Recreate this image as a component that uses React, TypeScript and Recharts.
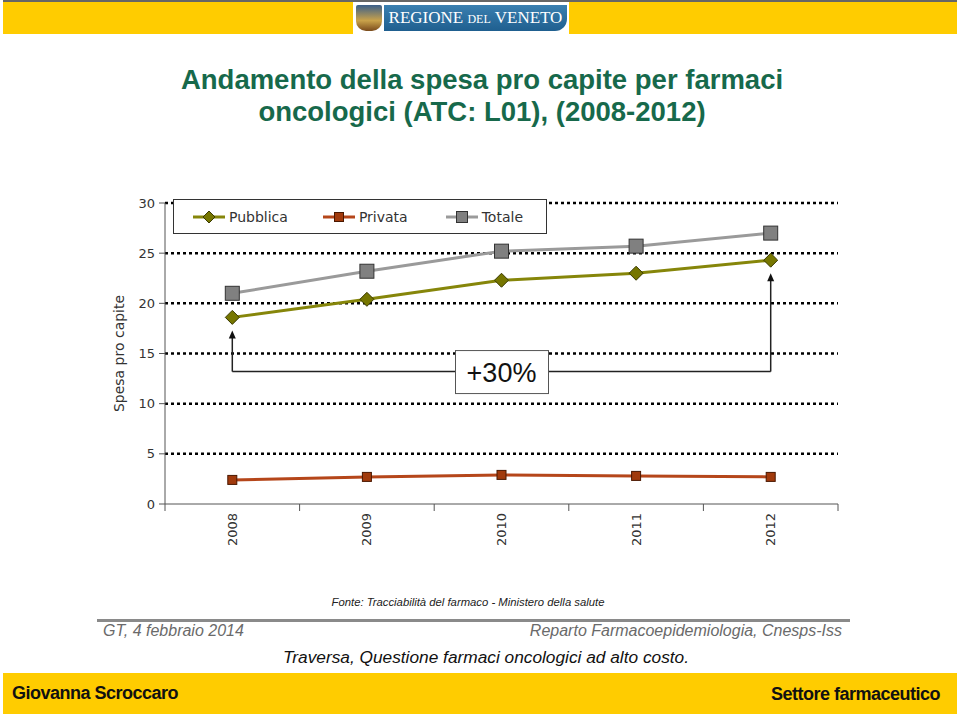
import {
  LineChart,
  Line,
  XAxis,
  YAxis,
  CartesianGrid,
  Legend,
  ReferenceLine,
  ReferenceDot,
} from "recharts"

const years = ["2008", "2009", "2010", "2011", "2012"]
const pubblica = [18.6, 20.4, 22.3, 23.0, 24.3]
const privata = [2.4, 2.7, 2.9, 2.8, 2.7]
const totale = [21.0, 23.2, 25.2, 25.7, 27.0]
const yTicks = [0, 5, 10, 15, 20, 25, 30]
const gridValues = [5, 10, 15, 20, 25, 30]

// annotation "+30%" (data units)
const bracketLevel = 13.2
const arrowTipLeft = 17.3
const arrowTipRight = 23.0

const data = years.map((year, i) => ({
  year,
  pubblica: pubblica[i],
  privata: privata[i],
  totale: totale[i],
}))

const COL_PUB = "#86860a"
const COL_PRIV = "#b5461a"
const COL_TOT = "#9a9a9a"
const FONT = "'DejaVu Sans', Verdana, sans-serif"
const ARIAL = "'Liberation Sans', Arial, sans-serif"

const Diamond = (p: any) => {
  const { cx, cy } = p
  if (cx == null || cy == null) return null
  const r = 7
  return (
    <path
      d={`M${cx},${cy - r}L${cx + r},${cy}L${cx},${cy + r}L${cx - r},${cy}Z`}
      fill="#767600"
      stroke="#3a3a00"
      strokeWidth={1}
    />
  )
}

const squareDot = (size: number, fill: string, stroke: string) => (p: any) => {
  const { cx, cy } = p
  if (cx == null || cy == null) return null
  return (
    <rect
      x={cx - size / 2}
      y={cy - size / 2}
      width={size}
      height={size}
      fill={fill}
      stroke={stroke}
      strokeWidth={1}
    />
  )
}

const PrivDot = squareDot(9, "#a13a0c", "#4a1800")
const TotDot = squareDot(14, "#808080", "#333333")

const ArrowHead = (p: any) => {
  const { cx, cy } = p
  return (
    <path d={`M${cx},${cy}L${cx + 3.5},${cy + 8}L${cx - 3.5},${cy + 8}Z`} fill="#111" />
  )
}

const PercentBox = (p: any) => {
  const { cx, cy } = p
  return (
    <g>
      <rect x={cx - 46} y={cy - 21} width={93} height={43} fill="#fff" stroke="#555" strokeWidth={1} />
      <text
        x={cx}
        y={cy + 1}
        textAnchor="middle"
        dominantBaseline="central"
        fontFamily={ARIAL}
        fontSize={27}
        fill="#111"
      >
        +30%
      </text>
    </g>
  )
}

// year label plus tick marks on the band edges
const YearTick = (p: any) => {
  const { x, y, payload, index, visibleTicksCount } = p
  const half = payload && payload.offset ? payload.offset : 67.3
  const top = y - 9
  const last = index === visibleTicksCount - 1
  return (
    <g>
      <line x1={x - half} y1={top} x2={x - half} y2={top + 7} stroke="#555" />
      {last && <line x1={x + half} y1={top} x2={x + half} y2={top + 7} stroke="#555" />}
      <text
        x={x}
        y={y}
        transform={`rotate(-90 ${x} ${y})`}
        textAnchor="end"
        dominantBaseline="central"
        fontFamily={FONT}
        fontSize={13}
        fill="#333"
      >
        {payload.value}
      </text>
    </g>
  )
}

const legendItems = [
  { name: "Pubblica", color: COL_PUB, kind: "diamond" },
  { name: "Privata", color: COL_PRIV, kind: "small" },
  { name: "Totale", color: COL_TOT, kind: "big" },
]

function LegendIcon({ color, kind }: { color: string; kind: string }) {
  return (
    <svg width={32} height={14} style={{ display: "block" }}>
      <line x1={0} y1={7} x2={32} y2={7} stroke={color} strokeWidth={3} />
      {kind === "diamond" && <path d="M16,1L22,7L16,13L10,7Z" fill="#767600" stroke="#3a3a00" />}
      {kind === "small" && <rect x={11.5} y={2.5} width={9} height={9} fill="#a13a0c" stroke="#4a1800" />}
      {kind === "big" && <rect x={10.5} y={1.5} width={11} height={11} fill="#808080" stroke="#333" />}
    </svg>
  )
}

function LegendBox() {
  return (
    <div
      style={{
        width: 374,
        height: 35,
        boxSizing: "border-box",
        border: "1px solid #333",
        background: "#fff",
        display: "flex",
        alignItems: "center",
        paddingLeft: 19,
        fontFamily: FONT,
        fontSize: 14,
        color: "#333",
      }}
    >
      {legendItems.map((it, i) => (
        <div
          key={it.name}
          style={{ display: "flex", alignItems: "center", gap: 4, marginRight: i === 0 ? 35 : 38 }}
        >
          <LegendIcon color={it.color} kind={it.kind} />
          <span>{it.name}</span>
        </div>
      ))}
    </div>
  )
}

const abs = (s: React.CSSProperties): React.CSSProperties => ({ position: "absolute", ...s })

export default function App() {
  return (
    <div style={abs({ left: 0, top: 0, width: 960, height: 716, background: "#fff", overflow: "hidden" })}>
      {/* header band */}
      <div style={abs({ left: 3, top: 0, width: 954, height: 2, background: "#666" })} />
      <div style={abs({ left: 3, top: 2, width: 954, height: 32, background: "#ffcc00" })} />
      <div style={abs({ left: 353, top: 2, width: 216, height: 32, background: "#fff" })} />
      <div
        style={abs({
          left: 356,
          top: 5,
          width: 26,
          height: 26,
          background: "linear-gradient(180deg,#3b5f8a,#c9a24a 60%,#7a4b1c)",
          borderRadius: "2px 2px 10px 10px",
        })}
      />
      <div
        style={abs({
          left: 384,
          top: 5,
          width: 183,
          height: 26,
          background: "linear-gradient(180deg,#3a7fb0,#1f5f8f)",
          borderRadius: "0 0 12px 0",
          color: "#fff",
          fontFamily: "'Liberation Serif', serif",
          fontSize: 17,
          lineHeight: "26px",
          textAlign: "center",
          whiteSpace: "nowrap",
        })}
      >
        REGIONE <span style={{ fontSize: 12 }}>DEL</span> VENETO
      </div>

      {/* title */}
      <div
        style={abs({
          left: 0,
          top: 64,
          width: 964,
          textAlign: "center",
          fontFamily: ARIAL,
          fontWeight: "bold",
          fontSize: 27.5,
          lineHeight: "32px",
          color: "#17694b",
        })}
      >
        Andamento della spesa pro capite per farmaci
        <br />
        oncologici (ATC: L01), (2008-2012)
      </div>

      <div style={abs({ left: 0, top: 0 })}>
        <LineChart
          width={960}
          height={716}
          data={data}
          margin={{ top: 203, right: 122, bottom: 162, left: 105 }}
        >
          <CartesianGrid
            horizontal
            vertical={false}
            horizontalValues={gridValues}
            stroke="#000"
            strokeWidth={2.5}
            strokeDasharray="3 3"
          />
          <XAxis
            dataKey="year"
            scale="band"
            height={50}
            axisLine={{ stroke: "#555" }}
            tickLine={false}
            tickSize={7}
            tickMargin={2}
            interval={0}
            tick={<YearTick />}
          />
          <YAxis
            domain={[0, 30]}
            ticks={yTicks}
            width={60}
            tickSize={6}
            tickMargin={4}
            stroke="#555"
            tick={{ fill: "#333", fontSize: 13, fontFamily: FONT }}
            label={{
              value: "Spesa pro capite",
              angle: -90,
              position: "insideLeft",
              offset: 14,
              style: { textAnchor: "middle", fill: "#333", fontSize: 14, fontFamily: FONT },
            }}
          />
          <Legend
            layout="vertical"
            align="center"
            verticalAlign="middle"
            wrapperStyle={{ left: 173, top: 199, width: 374, height: 35 }}
            content={() => <LegendBox />}
          />
          <ReferenceLine
            segment={[
              { x: "2008", y: bracketLevel },
              { x: "2012", y: bracketLevel },
            ]}
            stroke="#222"
            strokeWidth={1.5}
          />
          <ReferenceLine
            segment={[
              { x: "2008", y: bracketLevel },
              { x: "2008", y: arrowTipLeft - 0.5 },
            ]}
            stroke="#222"
            strokeWidth={1.5}
          />
          <ReferenceLine
            segment={[
              { x: "2012", y: bracketLevel },
              { x: "2012", y: arrowTipRight - 0.5 },
            ]}
            stroke="#222"
            strokeWidth={1.5}
          />
          <ReferenceDot x="2008" y={arrowTipLeft} shape={ArrowHead} />
          <ReferenceDot x="2012" y={arrowTipRight} shape={ArrowHead} />
          <ReferenceDot x="2010" y={bracketLevel} shape={PercentBox} />
          <Line
            dataKey="totale"
            name="Totale"
            stroke={COL_TOT}
            strokeWidth={3}
            dot={TotDot}
            activeDot={false}
            isAnimationActive={false}
          />
          <Line
            dataKey="pubblica"
            name="Pubblica"
            stroke={COL_PUB}
            strokeWidth={3}
            dot={Diamond}
            activeDot={false}
            isAnimationActive={false}
          />
          <Line
            dataKey="privata"
            name="Privata"
            stroke={COL_PRIV}
            strokeWidth={3}
            dot={PrivDot}
            activeDot={false}
            isAnimationActive={false}
          />
        </LineChart>
      </div>

      {/* footer */}
      <div
        style={abs({
          left: 0,
          top: 596,
          width: 936,
          textAlign: "center",
          fontFamily: ARIAL,
          fontStyle: "italic",
          fontSize: 11.3,
          color: "#222",
        })}
      >
        Fonte: Tracciabilità del farmaco - Ministero della salute
      </div>
      <div style={abs({ left: 97, top: 619, width: 753, height: 3, background: "#8a8a8a" })} />
      <div
        style={abs({ left: 103, top: 622, fontFamily: ARIAL, fontStyle: "italic", fontSize: 16, color: "#6a6a6a" })}
      >
        GT, 4 febbraio 2014
      </div>
      <div
        style={abs({
          right: 118,
          top: 622,
          fontFamily: ARIAL,
          fontStyle: "italic",
          fontSize: 16,
          color: "#6a6a6a",
        })}
      >
        Reparto Farmacoepidemiologia, Cnesps-Iss
      </div>
      <div
        style={abs({
          left: 0,
          top: 647,
          width: 972,
          textAlign: "center",
          fontFamily: ARIAL,
          fontStyle: "italic",
          fontSize: 17.3,
          color: "#111",
        })}
      >
        Traversa, Questione farmaci oncologici ad alto costo.
      </div>
      <div style={abs({ left: 3, top: 673, width: 954, height: 41, background: "#ffcc00" })} />
      <div
        style={abs({
          left: 12,
          top: 683,
          fontFamily: ARIAL,
          fontWeight: "bold",
          fontSize: 18,
          letterSpacing: -0.5,
          color: "#111",
        })}
      >
        Giovanna Scroccaro
      </div>
      <div
        style={abs({
          right: 20,
          top: 684,
          fontFamily: ARIAL,
          fontWeight: "bold",
          fontSize: 18,
          letterSpacing: -0.5,
          color: "#111",
        })}
      >
        Settore farmaceutico
      </div>
    </div>
  )
}
